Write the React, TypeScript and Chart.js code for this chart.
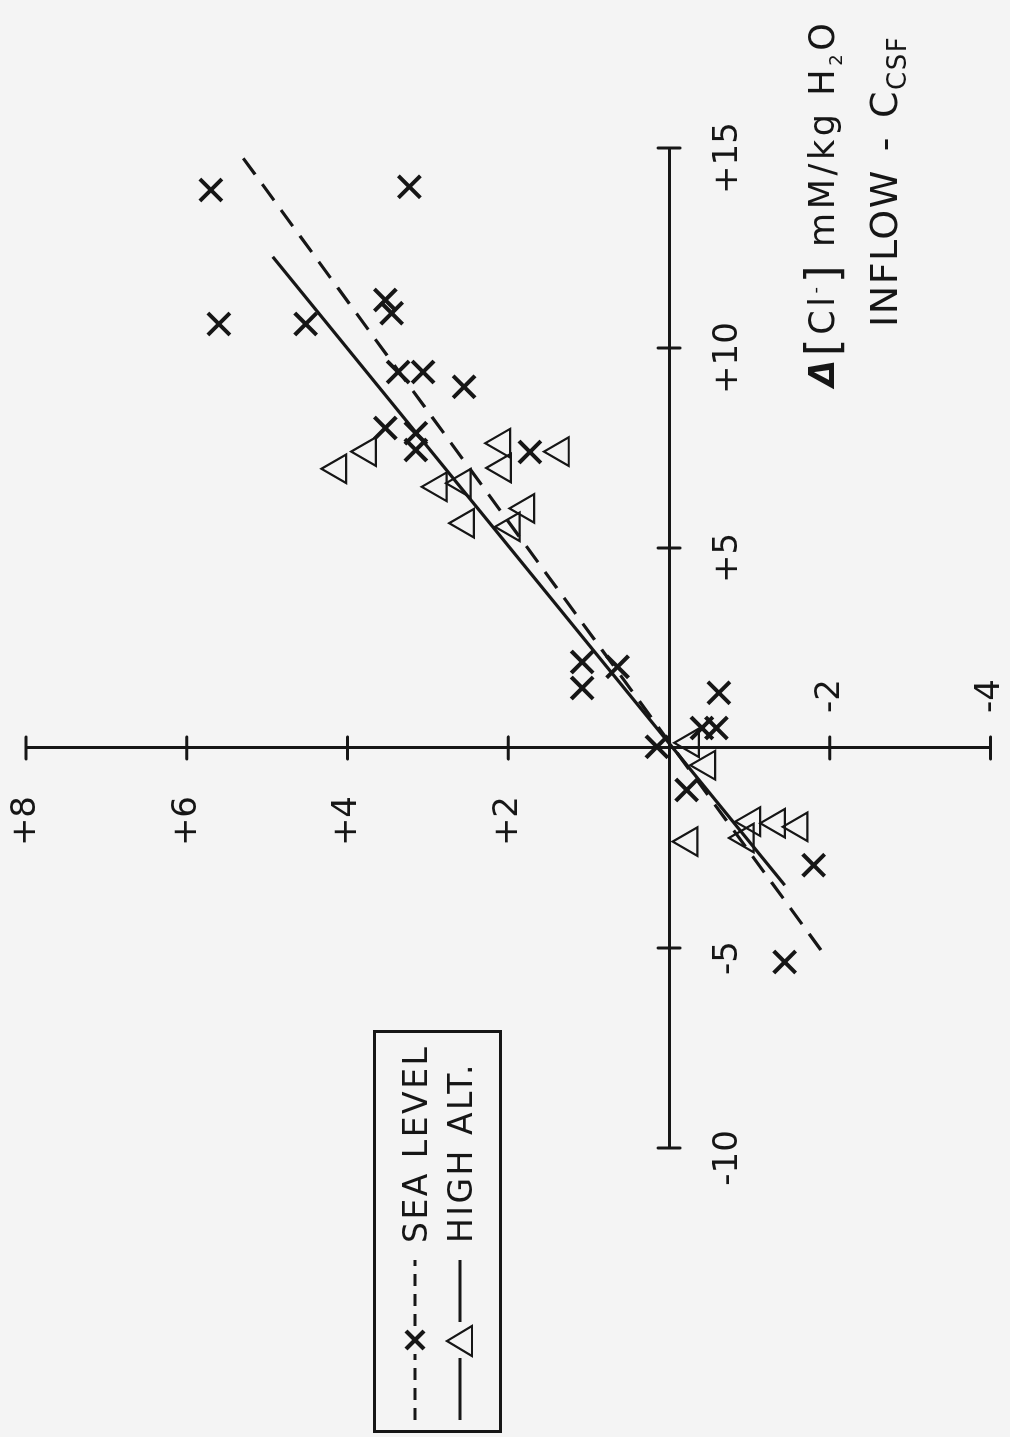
import React, { useEffect, useRef } from "react";
import { Chart, registerables } from "chart.js";

Chart.register(...registerables);

// ---- data (x = Δ[Cl-] inflow - C_CSF, y = response) ----
const seaX = [13.95, 14.03, 10.6, 10.6, 11.2, 10.87, 9.4, 9.4, 9.03, 8.0, 7.87, 7.45, 7.4, 2.15, 1.5, 2.03, 0.03, 0.5, 0.5, 1.38, -1.05, -2.93, -5.35];
const seaY = [5.7, 3.23, 5.6, 4.52, 3.53, 3.45, 3.37, 3.06, 2.55, 3.53, 3.15, 3.15, 1.73, 1.08, 1.08, 0.64, 0.15, -0.41, -0.59, -0.62, -0.22, -1.8, -1.44];
const altX = [6.98, 7.41, 7.62, 7.0, 7.41, 6.53, 6.62, 5.62, 5.99, 5.53, 0.13, -0.43, -2.34, -2.25, -1.84, -1.88, -1.97];
const altY = [4.12, 3.75, 2.08, 2.07, 1.35, 2.87, 2.57, 2.53, 1.78, 1.96, -0.27, -0.47, -0.25, -0.95, -1.03, -1.34, -1.62];
const seaFitX = [-5.05, 14.78];
const seaFitY = [-1.89, 5.31];
const altFitX = [-3.43, 12.28];
const altFitY = [-1.44, 4.93];
const xTicks = [-10, -5, 5, 10, 15];
const yTicks = [8, 6, 4, 2, -2, -4];
const legendLabels = ["SEA LEVEL", "HIGH ALT."];

const W = 1437;
const H = 1010;
const INK = "#161616";
const BG = "#f4f4f4";
const FONT = "'DejaVu Sans', 'Noto Sans', sans-serif";

const crossTicks = {
  id: "crossTicks",
  afterDraw(chart: any) {
    const { ctx } = chart;
    const xs = chart.scales.x;
    const ys = chart.scales.y;
    const x0 = xs.getPixelForValue(0);
    const y0 = ys.getPixelForValue(0);
    ctx.save();
    ctx.strokeStyle = INK;
    ctx.lineWidth = 3;
    ctx.lineCap = "round";
    xTicks.forEach((v) => {
      const px = xs.getPixelForValue(v);
      ctx.beginPath();
      ctx.moveTo(px, y0 - 11);
      ctx.lineTo(px, y0 + 11);
      ctx.stroke();
    });
    yTicks.forEach((v) => {
      const py = ys.getPixelForValue(v);
      ctx.beginPath();
      ctx.moveTo(x0 - 11, py);
      ctx.lineTo(x0 + 11, py);
      ctx.stroke();
    });
    ctx.restore();
  },
};

const pts = (xs: number[], ys: number[]) => xs.map((x, i) => ({ x, y: ys[i] }));
// centre-positioned axes must not take room from the plot area
const flatten = (s: any) => {
  if (s.isHorizontal()) s.height = 0;
  else s.width = 0;
  s.paddingTop = 0;
  s.paddingBottom = 0;
  s.paddingLeft = 0;
  s.paddingRight = 0;
};

export default function App() {
  const ref = useRef<HTMLCanvasElement>(null);

  useEffect(() => {
    if (!ref.current) return;
    const tickFont = { family: FONT, size: 34 };
    const yLabelScale = (posX: number, cb: (v: number) => string) => ({
      type: "linear",
      axis: "y",
      min: -4,
      max: 8,
      position: { x: posX },
      grid: { display: false, drawTicks: false },
      border: { display: false },
      afterFit: flatten,
      ticks: {
        stepSize: 2,
        autoSkip: false,
        padding: 0,
        color: INK,
        font: tickFont,
        callback: (v: any) => cb(Number(v)),
      },
    });
    const chart = new Chart(ref.current, {
      type: "scatter",
      data: {
        datasets: [
          {
            type: "line",
            label: "sea fit",
            data: pts(seaFitX, seaFitY),
            borderColor: INK,
            borderWidth: 3.2,
            borderDash: [20, 12],
            pointRadius: 0,
            fill: false,
            tension: 0,
            clip: false,
          } as any,
          {
            type: "line",
            label: "alt fit",
            data: pts(altFitX, altFitY),
            borderColor: INK,
            borderWidth: 3.2,
            pointRadius: 0,
            fill: false,
            tension: 0,
            clip: false,
          } as any,
          {
            label: legendLabels[0],
            data: pts(seaX, seaY),
            pointStyle: "crossRot",
            pointRadius: 15.5,
            pointBorderWidth: 4,
            borderColor: INK,
            backgroundColor: "rgba(0,0,0,0)",
            clip: false,
          } as any,
          {
            label: legendLabels[1],
            data: pts(altX, altY),
            pointStyle: "triangle",
            pointRadius: 16.5,
            pointBorderWidth: 2.2,
            borderColor: INK,
            backgroundColor: "rgba(0,0,0,0)",
            clip: false,
          } as any,
        ],
      },
      options: {
        animation: false,
        responsive: false,
        devicePixelRatio: 1,
        layout: { padding: { left: 289, right: 148, top: 26, bottom: 15 } },
        plugins: { legend: { display: false }, tooltip: { enabled: false } },
        scales: {
          x: {
            type: "linear",
            min: -10,
            max: 15,
            position: { y: 0 } as any,
            grid: { display: false, drawTicks: false },
            border: { display: true, color: INK, width: 3 },
            afterFit: flatten,
            ticks: {
              stepSize: 5,
              autoSkip: false,
              maxRotation: 0,
              padding: 39,
              labelOffset: -10,
              color: INK,
              font: tickFont,
              callback: (v: any) => (v === 0 ? "" : v > 0 ? "+" + v : String(v)),
            },
          },
          y: {
            type: "linear",
            min: -4,
            max: 8,
            position: { x: 0 } as any,
            grid: { display: false, drawTicks: false },
            border: { display: true, color: INK, width: 3 },
            afterFit: flatten,
            ticks: { display: false, stepSize: 2 },
          },
          yPos: yLabelScale(-1.2, (v) => (v > 0 ? "+" + v : "")) as any,
          yNeg: yLabelScale(1.72, (v) => (v < 0 ? String(v) : "")) as any,
        },
      },
      plugins: [crossTicks],
    } as any);
    return () => chart.destroy();
  }, []);

  const txt: React.CSSProperties = {
    position: "absolute",
    fontFamily: FONT,
    color: INK,
    whiteSpace: "nowrap",
    lineHeight: 1,
  };

  return (
    <div
      style={{
        position: "fixed",
        left: 0,
        top: 0,
        width: 1010,
        height: 1437,
        overflow: "hidden",
        background: BG,
      }}
    >
      <div
        style={{
          position: "absolute",
          left: 0,
          top: 0,
          width: W,
          height: H,
          transformOrigin: "0 0",
          transform: `translate(0px, ${W}px) rotate(-90deg)`,
        }}
      >
        <canvas ref={ref} width={W} height={H} style={{ position: "absolute", left: 0, top: 0 }} />

        {/* legend */}
        <div
          style={{
            position: "absolute",
            left: 4,
            top: 373,
            width: 403,
            height: 129,
            border: `3px solid ${INK}`,
            boxSizing: "border-box",
          }}
        >
          <svg width={180} height={122} style={{ position: "absolute", left: 0, top: 0 }}>
            <line x1={10} y1={39} x2={76} y2={39} stroke={INK} strokeWidth={3} strokeDasharray="12 8" />
            <line x1={104} y1={39} x2={170} y2={39} stroke={INK} strokeWidth={3} strokeDasharray="12 8" />
            <line x1={81} y1={30} x2={99} y2={48} stroke={INK} strokeWidth={4} />
            <line x1={99} y1={30} x2={81} y2={48} stroke={INK} strokeWidth={4} />
            <line x1={10} y1={84} x2={72} y2={84} stroke={INK} strokeWidth={3} />
            <line x1={108} y1={84} x2={170} y2={84} stroke={INK} strokeWidth={3} />
            <polygon points="89,71 104,96 74,96" fill="none" stroke={INK} strokeWidth={2.2} />
          </svg>
          <span style={{ ...txt, left: 187, top: 23, fontSize: 33, letterSpacing: 2.5 }}>{legendLabels[0]}</span>
          <span style={{ ...txt, left: 187, top: 68, fontSize: 33, letterSpacing: 2.5 }}>{legendLabels[1]}</span>
        </div>

        {/* axis title */}
        <div style={{ ...txt, left: 1050, top: 799, fontSize: 35, letterSpacing: 3.6 }}>
          <span style={{ fontWeight: 700, fontStyle: "italic" }}>Δ</span>
          <span style={{ fontSize: 46, verticalAlign: "-4px" }}>[</span>
          Cl<sup style={{ fontSize: 18 }}>-</sup>
          <span style={{ fontSize: 46, verticalAlign: "-4px" }}>]</span>
          {"  "}mM/kg H<sub style={{ fontSize: 18 }}>2</sub>O
        </div>
        <div style={{ ...txt, left: 1110, top: 865, fontSize: 38, letterSpacing: 1.5 }}>
          INFLOW<span style={{ margin: "0 18px" }}>-</span>C
          <sub style={{ fontSize: 26, letterSpacing: 1.5 }}>CSF</sub>
        </div>
      </div>
    </div>
  );
}
